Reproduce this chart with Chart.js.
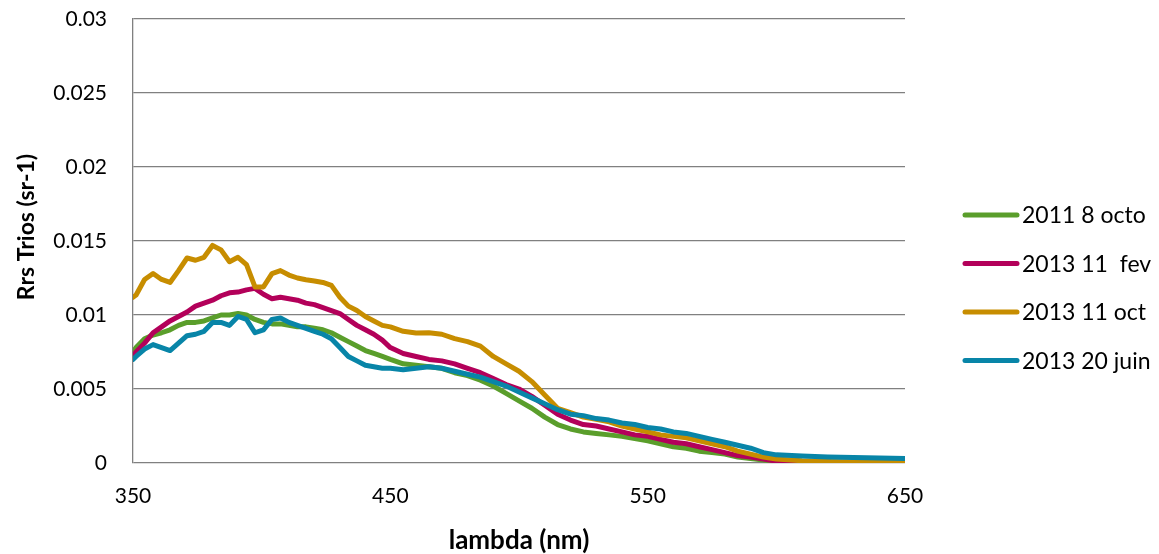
<!DOCTYPE html>
<html lang="fr">
<head>
<meta charset="utf-8">
<title>Rrs Trios</title>
<script src="https://cdn.jsdelivr.net/npm/chart.js@4.4.1/dist/chart.umd.min.js"></script>
<style>
  html, body { margin: 0; padding: 0; background: #ffffff; }
  #contenedor { position: relative; width: 1159px; height: 554px; }
</style>
</head>
<body>
<div id="contenedor"><canvas id="grafica"></canvas></div>
<script>
// Longitudes de onda (nm), compartidas por las cuatro series
const lambda = [350, 351.2, 354.5, 357.8, 361.1, 364.4, 367.7, 371.0, 374.3, 377.6,
  380.9, 384.2, 387.5, 390.8, 394.1, 397.4, 400.7, 404.0, 407.3, 410.6,
  413.9, 417.2, 420.5, 423.8, 427.1, 430.4, 433.7, 437.0, 440.3, 443.6,
  446.9, 450, 455, 460, 465, 470, 475, 480, 485, 490,
  495, 500, 505, 510, 515, 520, 525, 530, 535, 540,
  545, 550, 555, 560, 565, 570, 575, 580, 585, 590,
  595, 600, 610, 620, 635, 650];

// Rrs (sr-1)
const octo2011 = [0.0075, 0.0078, 0.0084, 0.00865, 0.0088, 0.0090, 0.0093, 0.0095, 0.0095, 0.0096,
  0.0098, 0.0100, 0.0100, 0.0101, 0.0100, 0.0097, 0.0095, 0.0094, 0.0094, 0.0093,
  0.0092, 0.0092, 0.0091, 0.0090, 0.0088, 0.0085, 0.0082, 0.0079, 0.0076, 0.0074,
  0.0072, 0.0070, 0.0067, 0.0066, 0.0065, 0.0064, 0.0061, 0.0059, 0.0056, 0.0052,
  0.0047, 0.0042, 0.0037, 0.0031, 0.0026, 0.0023, 0.0021, 0.0020, 0.0019, 0.0018,
  0.00165, 0.0015, 0.0013, 0.0011, 0.0010, 0.0008, 0.0007, 0.0006, 0.0004, 0.0003,
  0.0002, 0.0001, 0.00003, 0.00002, 0.00001, 0.00001];

const fev2013 = [0.0072, 0.0075, 0.0081, 0.0088, 0.0092, 0.0096, 0.0099, 0.0102, 0.0106, 0.0108,
  0.0110, 0.0113, 0.0115, 0.01155, 0.0117, 0.0118, 0.0114, 0.0111, 0.0112, 0.0111,
  0.0110, 0.0108, 0.0107, 0.0105, 0.0103, 0.0101, 0.0097, 0.0093, 0.0090, 0.0087,
  0.0083, 0.0078, 0.0074, 0.0072, 0.0070, 0.0069, 0.0067, 0.0064, 0.0061, 0.0057,
  0.0053, 0.0050, 0.0045, 0.0039, 0.0033, 0.0029, 0.0026, 0.0025, 0.0023, 0.0021,
  0.0019, 0.0018, 0.0016, 0.0014, 0.0013, 0.0011, 0.0009, 0.0007, 0.0005, 0.0004,
  0.00027, 0.00012, 0.00005, 0.00003, 0.00002, 0.00001];

const oct2013 = [0.0112, 0.01135, 0.0124, 0.0128, 0.0124, 0.0122, 0.0130, 0.01385, 0.0137, 0.0139,
  0.0147, 0.0144, 0.0136, 0.0139, 0.0134, 0.0119, 0.0119, 0.0128, 0.0130, 0.0127,
  0.0125, 0.01238, 0.0123, 0.0122, 0.0120, 0.0112, 0.0106, 0.0103, 0.0099, 0.0096,
  0.0093, 0.0092, 0.0089, 0.00878, 0.0088, 0.0087, 0.0084, 0.0082, 0.0079, 0.0072,
  0.0067, 0.0062, 0.0055, 0.0046, 0.0037, 0.0034, 0.0031, 0.00295, 0.00278, 0.0025,
  0.0023, 0.0021, 0.0019, 0.0018, 0.0017, 0.0015, 0.0013, 0.0011, 0.0008, 0.0006,
  0.0004, 0.00027, 0.00015, 0.0001, 0.00006, 0.00004];

const juin2013 = [0.0070, 0.0072, 0.0077, 0.0080, 0.0078, 0.0076, 0.0081, 0.0086, 0.0087, 0.0089,
  0.0095, 0.0095, 0.0093, 0.0099, 0.0097, 0.0088, 0.0090, 0.0097, 0.0098, 0.0095,
  0.0093, 0.0091, 0.0089, 0.0087, 0.0084, 0.0078, 0.0072, 0.0069, 0.0066, 0.0065,
  0.0064, 0.0064, 0.0063, 0.0064, 0.0065, 0.0064, 0.0062, 0.0060, 0.0058, 0.0055,
  0.0052, 0.0048, 0.0044, 0.0040, 0.0036, 0.0033, 0.0032, 0.0030, 0.0029, 0.0027,
  0.0026, 0.0024, 0.0023, 0.0021, 0.0020, 0.0018, 0.0016, 0.0014, 0.0012, 0.0010,
  0.0007, 0.00055, 0.00047, 0.0004, 0.00035, 0.0003];

const nombresSeries = ["2011 8 octo", "2013 11  fev", "2013 11 oct", "2013 20 juin"];
const coloresSeries = ["#5a9e2b", "#b3005a", "#c78d00", "#0885a8"];

// Etiquetas de los ejes
const yTickLabels = ["0", "0.005", "0.01", "0.015", "0.02", "0.025", "0.03"];
const xTickLabels = ["350", "450", "550", "650"];
const tituloX = "lambda (nm)";
const tituloY = "Rrs Trios (sr-1)";

const fuente = "Lato, 'Open Sans', sans-serif";

document.addEventListener("DOMContentLoaded", () => {
  const ctx = document.getElementById("grafica").getContext("2d");
  const series = [octo2011, fev2013, oct2013, juin2013];

  // Leyenda a la derecha y título del eje Y, dibujados a mano para colocarlos como en el original
  const textosExtra = {
    id: "textosExtra",
    afterDraw(chart) {
      const c = chart.ctx;
      c.save();
      c.font = "23px " + fuente;
      c.textBaseline = "middle";
      c.textAlign = "left";
      chart.data.datasets.forEach((ds, i) => {
        const y = 215 + i * 48.5;
        c.strokeStyle = ds.borderColor;
        c.lineWidth = 5;
        c.lineCap = "round";
        c.beginPath();
        c.moveTo(965, y);
        c.lineTo(1017, y);
        c.stroke();
        c.fillStyle = "#000000";
        c.fillText(ds.label, 1022, y + 1);
      });

      // Título vertical del eje Y
      c.translate(27, 227);
      c.rotate(-Math.PI / 2);
      c.font = "bold 23px " + fuente;
      c.textAlign = "center";
      c.fillText(tituloY, 0, 0);
      c.restore();
    }
  };

  new Chart(ctx, {
    type: "line",
    data: {
      datasets: series.map((valores, i) => ({
        label: nombresSeries[i],
        data: valores.map((v, k) => ({ x: lambda[k], y: v })),
        borderColor: coloresSeries[i],
        backgroundColor: coloresSeries[i],
        borderWidth: 5,
        pointRadius: 0,
        tension: 0,
        borderJoinStyle: "round",
        borderCapStyle: "round",
        clip: 0,
        order: 4 - i // la última serie queda encima
      }))
    },
    options: {
      responsive: true,
      maintainAspectRatio: false,
      animation: false,
      layout: { padding: { top: 19, right: 254, left: 0, bottom: 0 } },
      plugins: {
        legend: { display: false },
        tooltip: { enabled: false }
      },
      scales: {
        x: {
          type: "linear",
          min: 350,
          max: 650,
          afterFit: (scale) => { scale.height = 91; },
          grid: { display: false, drawTicks: false },
          border: { display: false },
          ticks: {
            stepSize: 100,
            padding: 21,
            color: "#000000",
            font: { family: fuente, size: 21 },
            maxRotation: 0,
            callback: (v, i) => xTickLabels[i]
          },
          title: {
            display: true,
            text: tituloX,
            color: "#000000",
            font: { family: fuente, size: 26, weight: "bold" },
            padding: { top: 0, bottom: -2 }
          }
        },
        y: {
          min: 0,
          max: 0.03,
          afterFit: (scale) => { scale.width = 133; },
          // marcas invisibles de 26 px para separar las etiquetas del eje
          grid: { color: "#808080", lineWidth: 1.3, drawTicks: true, tickLength: 26, tickColor: "rgba(0,0,0,0)" },
          border: { display: true, color: "#808080", width: 1.3 },
          ticks: {
            stepSize: 0.005,
            padding: 0,
            color: "#000000",
            font: { family: fuente, size: 21 },
            callback: (v, i) => yTickLabels[i]
          },
          title: { display: false }
        }
      }
    },
    plugins: [textosExtra]
  });
});
</script>
</body>
</html>
